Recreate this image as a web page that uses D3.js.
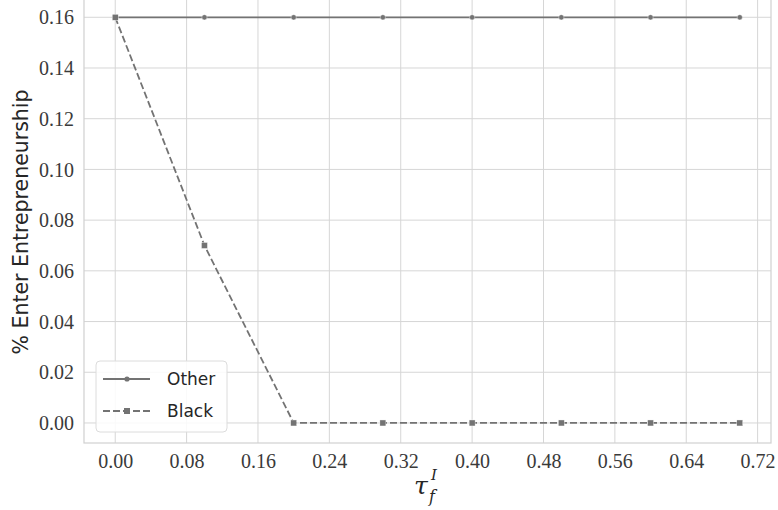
<!DOCTYPE html>
<html>
<head>
<meta charset="utf-8">
<script src="https://cdn.jsdelivr.net/npm/d3@7"></script>
<style>
  body { margin: 0; background: #fff; }
  svg { display: block; }
</style>
</head>
<body>
<script>
// data
const taus = [0.0, 0.1, 0.2, 0.3, 0.4, 0.5, 0.6, 0.7];
const otherVals = [0.16, 0.16, 0.16, 0.16, 0.16, 0.16, 0.16, 0.16];
const blackVals = [0.16, 0.07, 0.0, 0.0, 0.0, 0.0, 0.0, 0.0];
const xTicks = [0, 0.08, 0.16, 0.24, 0.32, 0.40, 0.48, 0.56, 0.64, 0.72];
const yTicks = [0, 0.02, 0.04, 0.06, 0.08, 0.10, 0.12, 0.14, 0.16];

const width = 778, height = 510;
const plot = { left: 84, right: 771, top: -3, bottom: 443 };

const svg = d3.select("body").append("svg")
    .attr("width", width)
    .attr("height", height);

const x = d3.scaleLinear().domain([-0.035, 0.735]).range([plot.left, plot.right]);
const y = d3.scaleLinear().domain([-0.0079, 0.168]).range([plot.bottom, plot.top]);

const serif = "'Liberation Serif', 'DejaVu Serif', serif";
const sans = "'DejaVu Sans', Lato, sans-serif";

// grid
const g = svg.append("g");
g.selectAll(".vg").data(xTicks).enter().append("line")
    .attr("x1", d => x(d)).attr("x2", d => x(d))
    .attr("y1", plot.top).attr("y2", plot.bottom)
    .attr("stroke", "#d6d6d6").attr("stroke-width", 1);
g.selectAll(".hg").data(yTicks).enter().append("line")
    .attr("x1", plot.left).attr("x2", plot.right)
    .attr("y1", d => y(d)).attr("y2", d => y(d))
    .attr("stroke", "#d6d6d6").attr("stroke-width", 1);

// spines
g.append("rect")
    .attr("x", plot.left).attr("y", plot.top)
    .attr("width", plot.right - plot.left).attr("height", plot.bottom - plot.top)
    .attr("fill", "none").attr("stroke", "#d0d0d0").attr("stroke-width", 1.2);

// tick labels via axes, no lines
const xAxis = svg.append("g")
    .attr("transform", `translate(0,${plot.bottom})`)
    .call(d3.axisBottom(x).tickValues(xTicks).tickSize(0).tickPadding(11).tickFormat(d3.format(".2f")));
const yAxis = svg.append("g")
    .attr("transform", `translate(${plot.left},0)`)
    .call(d3.axisLeft(y).tickValues(yTicks).tickSize(0).tickPadding(10).tickFormat(d3.format(".2f")));
[xAxis, yAxis].forEach(a => {
    a.select(".domain").remove();
    a.selectAll("text")
        .attr("font-family", serif)
        .attr("font-size", 20)
        .attr("fill", "#3a3a3a");
});
yAxis.selectAll("text").attr("dy", "0.33em");

// lines
const lineColor = "#737373";
const line = d3.line().x(d => x(d[0])).y(d => y(d[1]));
const otherPts = taus.map((t, i) => [t, otherVals[i]]);
const blackPts = taus.map((t, i) => [t, blackVals[i]]);

svg.append("path").datum(otherPts)
    .attr("d", line).attr("fill", "none")
    .attr("stroke", lineColor).attr("stroke-width", 1.8);
svg.selectAll(".om").data(otherPts).enter().append("circle")
    .attr("cx", d => x(d[0])).attr("cy", d => y(d[1])).attr("r", 2.6)
    .attr("fill", lineColor).attr("stroke", "#fff").attr("stroke-width", 0.4);

svg.append("path").datum(blackPts)
    .attr("d", line).attr("fill", "none")
    .attr("stroke", lineColor).attr("stroke-width", 1.8)
    .attr("stroke-dasharray", "7,3");
svg.selectAll(".bm").data(blackPts).enter().append("rect")
    .attr("x", d => x(d[0]) - 3).attr("y", d => y(d[1]) - 3)
    .attr("width", 6).attr("height", 6)
    .attr("fill", lineColor).attr("stroke", "#fff").attr("stroke-width", 0.4);

// legend
const leg = svg.append("g");
leg.append("rect")
    .attr("x", 96).attr("y", 361).attr("width", 131).attr("height", 71)
    .attr("rx", 4).attr("fill", "#fff").attr("fill-opacity", 0.85)
    .attr("stroke", "#dcdcdc").attr("stroke-width", 1);
const legItems = [
    { name: "Other", dash: null, marker: "circle", yy: 379 },
    { name: "Black", dash: "7,3", marker: "square", yy: 411 }
];
legItems.forEach(it => {
    leg.append("line")
        .attr("x1", 103).attr("x2", 150).attr("y1", it.yy).attr("y2", it.yy)
        .attr("stroke", lineColor).attr("stroke-width", 1.8)
        .attr("stroke-dasharray", it.dash);
    if (it.marker === "circle") {
        leg.append("circle").attr("cx", 127).attr("cy", it.yy).attr("r", 2.6).attr("fill", lineColor);
    } else {
        leg.append("rect").attr("x", 124).attr("y", it.yy - 3).attr("width", 6).attr("height", 6).attr("fill", lineColor);
    }
    leg.append("text")
        .attr("x", 167).attr("y", it.yy).attr("dy", "0.35em")
        .attr("font-family", sans).attr("font-size", 17).attr("fill", "#262626")
        .text(it.name);
});

// axis labels
svg.append("text")
    .attr("transform", `translate(28,222) rotate(-90)`)
    .attr("text-anchor", "middle")
    .attr("font-family", sans).attr("font-size", 20.5).attr("fill", "#262626")
    .text("% Enter Entrepreneurship");

// tau_f^I : glyphs placed one by one
const xlFont = "'DejaVu Serif', serif";
svg.append("text")
    .attr("x", 414).attr("y", 494)
    .attr("font-family", xlFont).attr("font-style", "italic").attr("font-size", 25).attr("fill", "#262626")
    .text("τ");
svg.append("text")
    .attr("x", 429).attr("y", 502)
    .attr("font-family", xlFont).attr("font-style", "italic").attr("font-size", 16).attr("fill", "#262626")
    .text("f");
svg.append("text")
    .attr("x", 431).attr("y", 480)
    .attr("font-family", xlFont).attr("font-style", "italic").attr("font-size", 15).attr("fill", "#262626")
    .text("I");
</script>
</body>
</html>
